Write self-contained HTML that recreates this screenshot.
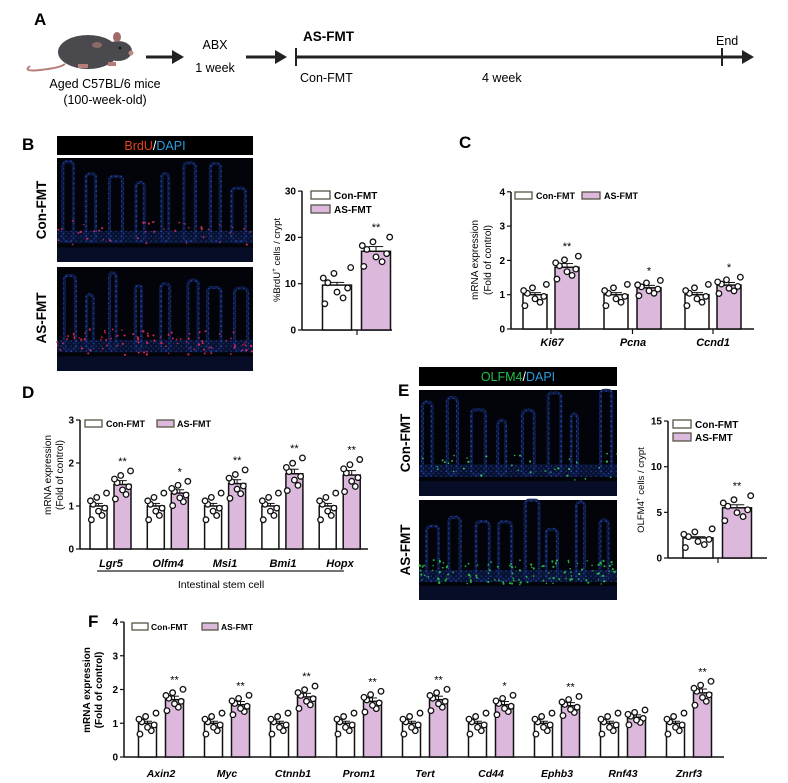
<!DOCTYPE html>
<html><head><meta charset="utf-8"><style>
html,body{margin:0;padding:0;background:#fff;}
svg{display:block;font-family:"Liberation Sans",Arial,sans-serif;}
.b{font-weight:bold}
</style></head><body>
<svg id="s" width="788" height="783" viewBox="0 0 788 783" xmlns="http://www.w3.org/2000/svg">
<defs>
<pattern id="nb" width="5" height="5" patternUnits="userSpaceOnUse">
<rect width="5" height="5" fill="#0c1a4a"/>
<circle cx="1.2" cy="1.2" r="0.8" fill="#2e55c0"/><circle cx="3.7" cy="3.5" r="0.7" fill="#2248a8"/>
</pattern>
</defs>
<!-- A -->
<text x="34" y="25" class="b" font-size="17">A</text>
<path d="M30 66 Q22 72 40 70 Q60 68 65 64" stroke="#b57f78" stroke-width="2" fill="none"/>
<ellipse cx="88" cy="52" rx="30" ry="17" fill="#4a4a4e"/>
<ellipse cx="118" cy="51" rx="14" ry="10" fill="#4a4a4e"/>
<ellipse cx="117" cy="37" rx="4" ry="5" fill="#a06a66"/>
<circle cx="131" cy="53" r="2.5" fill="#c08a84"/>
<circle cx="120" cy="48" r="1.3" fill="#111"/>
<rect x="78" y="64" width="10" height="4" fill="#b57f78"/><rect x="108" y="62" width="8" height="4" fill="#b57f78"/>
<ellipse cx="97" cy="45" rx="5" ry="3" fill="#8a6a66"/>
<line x1="146" y1="57" x2="174" y2="57" stroke="#222" stroke-width="3"/><polygon points="172,50 184,57 172,64" fill="#222"/>
<text x="105" y="88" text-anchor="middle" font-size="12.5">Aged C57BL/6 mice</text>
<text x="105" y="104" text-anchor="middle" font-size="12.5">(100-week-old)</text>
<text x="215" y="49" text-anchor="middle" font-size="12.5">ABX</text>
<text x="215" y="72" text-anchor="middle" font-size="12.5">1 week</text>
<line x1="246" y1="57" x2="277" y2="57" stroke="#222" stroke-width="3"/><polygon points="275,50 287,57 275,64" fill="#222"/>
<line x1="296" y1="57" x2="744" y2="57" stroke="#222" stroke-width="3"/><polygon points="742,50 754,57 742,64" fill="#222"/>
<line x1="296" y1="48" x2="296" y2="66" stroke="#222" stroke-width="2"/>
<line x1="722" y1="48" x2="722" y2="66" stroke="#222" stroke-width="2"/>
<text x="303" y="41" class="b" font-size="13.5">AS-FMT</text>
<text x="716" y="45" font-size="12.5">End</text>
<text x="300" y="82" font-size="12.5">Con-FMT</text>
<text x="482" y="82" font-size="12.5">4 week</text>

<!-- B -->
<text x="22" y="150" class="b" font-size="17">B</text>
<rect x="57" y="136" width="196" height="19" fill="#000"/>
<text x="155" y="150" text-anchor="middle" font-size="12.5"><tspan fill="#e8401c">BrdU</tspan><tspan fill="#fff">/</tspan><tspan fill="#2a9de0">DAPI</tspan></text>
<g id="imgB1"></g><g id="imgB2"></g>
<text transform="translate(46,210) rotate(-90)" text-anchor="middle" class="b" font-size="13.5">Con-FMT</text>
<text transform="translate(46,318) rotate(-90)" text-anchor="middle" class="b" font-size="13.5">AS-FMT</text>
<text transform="translate(280,260) rotate(-90)" text-anchor="middle" font-size="9.5">%BrdU<tspan font-size="6.5" dy="-4">+</tspan><tspan dy="4"> cells / crypt</tspan></text>

<!-- C -->
<text x="459" y="148" class="b" font-size="17">C</text>
<text transform="translate(478,260) rotate(-90)" text-anchor="middle" font-size="10">mRNA expression</text>
<text transform="translate(491,260) rotate(-90)" text-anchor="middle" font-size="10">(Fold of control)</text>

<!-- D -->
<text x="22" y="398" class="b" font-size="17">D</text>
<text transform="translate(51,475) rotate(-90)" text-anchor="middle" font-size="10">mRNA expression</text>
<text transform="translate(63,475) rotate(-90)" text-anchor="middle" font-size="10">(Fold of control)</text>
<line x1="97" y1="571" x2="344" y2="571" stroke="#222" stroke-width="1.2"/>
<text x="221" y="588" text-anchor="middle" font-size="10.5">Intestinal stem cell</text>

<!-- E -->
<text x="398" y="396" class="b" font-size="17">E</text>
<rect x="419" y="367" width="198" height="19" fill="#000"/>
<text x="518" y="381" text-anchor="middle" font-size="12.5"><tspan fill="#22c04a">OLFM4</tspan><tspan fill="#fff">/</tspan><tspan fill="#2a9de0">DAPI</tspan></text>
<g id="imgE1"></g><g id="imgE2"></g>
<text transform="translate(410,443) rotate(-90)" text-anchor="middle" class="b" font-size="13.5">Con-FMT</text>
<text transform="translate(410,550) rotate(-90)" text-anchor="middle" class="b" font-size="13.5">AS-FMT</text>
<text transform="translate(644,490) rotate(-90)" text-anchor="middle" font-size="9.5">OLFM4<tspan font-size="6.5" dy="-4">+</tspan><tspan dy="4"> cells / crypt</tspan></text>

<!-- F -->
<text x="88" y="627" class="b" font-size="17">F</text>
<text transform="translate(90,690) rotate(-90)" text-anchor="middle" class="b" font-size="10">mRNA expression</text>
<text transform="translate(102,690) rotate(-90)" text-anchor="middle" class="b" font-size="10">(Fold of control)</text>

<!-- legends & labels -->
<g font-size="10" class="b">
<rect x="311" y="191" width="19" height="8" fill="#fff" stroke="#554" stroke-width="1.3"/><text x="334" y="199">Con-FMT</text>
<rect x="311" y="205" width="19" height="8" fill="#dcb8dc" stroke="#554" stroke-width="1.3"/><text x="334" y="213">AS-FMT</text>
<rect x="515" y="192" width="17" height="7" fill="#fff" stroke="#554" stroke-width="1.3"/><text x="536" y="199" font-size="9">Con-FMT</text>
<rect x="582" y="192" width="18" height="7" fill="#dcb8dc" stroke="#554" stroke-width="1.3"/><text x="604" y="199" font-size="9">AS-FMT</text>
<rect x="85" y="420" width="17" height="7" fill="#fff" stroke="#554" stroke-width="1.3"/><text x="106" y="427" font-size="9">Con-FMT</text>
<rect x="157" y="420" width="17" height="7" fill="#dcb8dc" stroke="#554" stroke-width="1.3"/><text x="177" y="427" font-size="9">AS-FMT</text>
<rect x="673" y="420" width="18" height="8" fill="#fff" stroke="#554" stroke-width="1.3"/><text x="695" y="428">Con-FMT</text>
<rect x="673" y="433" width="18" height="8" fill="#dcb8dc" stroke="#554" stroke-width="1.3"/><text x="695" y="441">AS-FMT</text>
<rect x="132" y="623" width="16" height="7" fill="#fff" stroke="#554" stroke-width="1.3"/><text x="151" y="630" font-size="8.5">Con-FMT</text>
<rect x="202" y="623" width="16" height="7" fill="#dcb8dc" stroke="#554" stroke-width="1.3"/><text x="221" y="630" font-size="8.5">AS-FMT</text>
</g>
<g font-size="11" class="b" font-style="italic" text-anchor="middle">
<text x="552" y="346">Ki67</text><text x="633" y="346">Pcna</text><text x="713" y="346">Ccnd1</text>
<text x="111" y="567">Lgr5</text><text x="168" y="567">Olfm4</text><text x="225" y="567">Msi1</text><text x="283" y="567">Bmi1</text><text x="340" y="567">Hopx</text>
<g font-size="10.5"><text x="161" y="777">Axin2</text><text x="227" y="777">Myc</text><text x="293" y="777">Ctnnb1</text><text x="359" y="777">Prom1</text><text x="425" y="777">Tert</text><text x="491" y="777">Cd44</text><text x="557" y="777">Ephb3</text><text x="623" y="777">Rnf43</text><text x="689" y="777">Znrf3</text></g>
</g>
<g id="charts"></g>
</svg>
<script>
var NS="http://www.w3.org/2000/svg",S=document.getElementById("charts");
function el(t,a,p){var e=document.createElementNS(NS,t);for(var k in a)e.setAttribute(k,a[k]);(p||S).appendChild(e);return e;}
function axis(x,y0,ytop,xend,unit,ticks,fs){
 el("line",{x1:x,y1:y0,x2:x,y2:ytop,stroke:"#111","stroke-width":1.5});
 el("line",{x1:x,y1:y0,x2:xend,y2:y0,stroke:"#111","stroke-width":1.5});
 ticks.forEach(function(t){var y=y0-t*unit;el("line",{x1:x-4,y1:y,x2:x,y2:y,stroke:"#111","stroke-width":1.2});
  var tx=el("text",{x:x-6,y:y+3.5,"text-anchor":"end","font-size":fs||10,"font-weight":"bold"});tx.textContent=t;});
}
var offs=[-0.32,-0.22,-0.12,-0.05,0.04,0.12,0.2,0.3];
var xo=[-0.4,0.35,-0.1,0.2,-0.3,0.45,0,-0.45];
function bar(cx,w,m,y0,unit,fill,sp,star){
 var h=m*unit;el("rect",{x:cx-w/2,y:y0-h,width:w,height:h,fill:fill,stroke:"#111","stroke-width":1.5});
 var e=m*0.06*unit;el("line",{x1:cx,y1:y0-h-e,x2:cx,y2:y0-h,stroke:"#111","stroke-width":1});
 el("line",{x1:cx-w*0.25,y1:y0-h-e,x2:cx+w*0.25,y2:y0-h-e,stroke:"#111","stroke-width":1});
 var top=0;for(var i=0;i<8;i++){var v=m*(1+offs[(i*3)%8]*sp);var y=y0-v*unit;top=Math.min(top||y,y);
  el("circle",{cx:cx+xo[i]*w*1.05,cy:y,r:2.8,fill:"#fff",stroke:"#111","stroke-width":1.3});}
 if(star){var t=el("text",{x:cx,y:top-6,"text-anchor":"middle","font-size":11});t.textContent=star;}
}
function tk(x,y0){el("line",{x1:x,y1:y0,x2:x,y2:y0+5,stroke:"#111","stroke-width":1.2});}
var P="#dcb8dc";
// B
axis(302,330,191,392,4.63,[0,10,20,30],10);
bar(337,29,9.7,330,4.63,"#fff",1.3);bar(376,29,17,330,4.63,P,0.6,"**");tk(357,330);
// C
axis(511,329,192,754,34.3,[0,1,2,3,4]);
[[535,567,1.8,"**"],[616,649,1.2,"*"],[697,729,1.28,"*"]].forEach(function(g){bar(g[0],24,1,329,34.3,"#fff",1);bar(g[1],24,g[2],329,34.3,P,0.6,g[3]);tk((g[0]+g[1])/2,329);});
// D
axis(80,549,420,368,43,[0,1,2,3]);
[1.5,1.3,1.52,1.75,1.72].forEach(function(m,i){var c=98.5+i*57.3;bar(c,17,1,549,43,"#fff",1);bar(c+24,17,m,549,43,P,0.7,i==1?"*":"**");});
// E
axis(668,558,421,767,9.13,[0,5,10,15],10);
bar(698,30,2.2,558,9.13,"#fff",1.5);bar(737,29,5.5,558,9.13,P,0.8,"**");tk(718,558);
// F
axis(124,757,622,724,33.75,[0,1,2,3,4]);
[[1.7,"**"],[1.55,"**"],[1.78,"**"],[1.65,"**"],[1.7,"**"],[1.55,"*"],[1.52,"**"],[1.18,""],[1.9,"**"]].forEach(function(g,i){var c=147.5+i*66;bar(c,18,1,757,33.75,"#fff",1);bar(c+27,18,g[0],757,33.75,P,0.6,g[1]);});
// microscopy
var seed=7;function r(){seed=(seed*9301+49297)%233280;return seed/233280;}
function micro(id,x,y,w,h,dot,dense){
 var g=document.getElementById(id);
 el("rect",{x:x,y:y,width:w,height:h,fill:"#03040a"},g);
 var n=Math.round(w/24);
 for(var i=0;i<n;i++){var vx=x+3+i*(w/n)+r()*6,vw=6+r()*8,vt=y+r()*h*0.3;
  el("rect",{x:vx,y:vt,width:vw,height:h*0.8-(vt-y),rx:4,fill:"none",stroke:"url(#nb)","stroke-width":3,opacity:0.9},g);}
 el("rect",{x:x,y:y+h*0.7,width:w,height:h*0.12,fill:"url(#nb)",opacity:0.6},g);
 el("rect",{x:x,y:y+h*0.86,width:w,height:h*0.14,fill:"#0a1438",opacity:0.6},g);
 for(var j=0;j<dense;j++){el("circle",{cx:x+r()*w,cy:y+h*(0.6+r()*0.25),r:0.7+r()*0.5,fill:dot,opacity:0.85},g);}
}
micro("imgB1",57,158,196,104,"#e0306a",40);
micro("imgB2",57,267,196,104,"#ff2a5a",90);
micro("imgE1",419,390,198,106,"#40e060",35);
micro("imgE2",419,500,198,100,"#30d050",120);
</script>
</body></html>
